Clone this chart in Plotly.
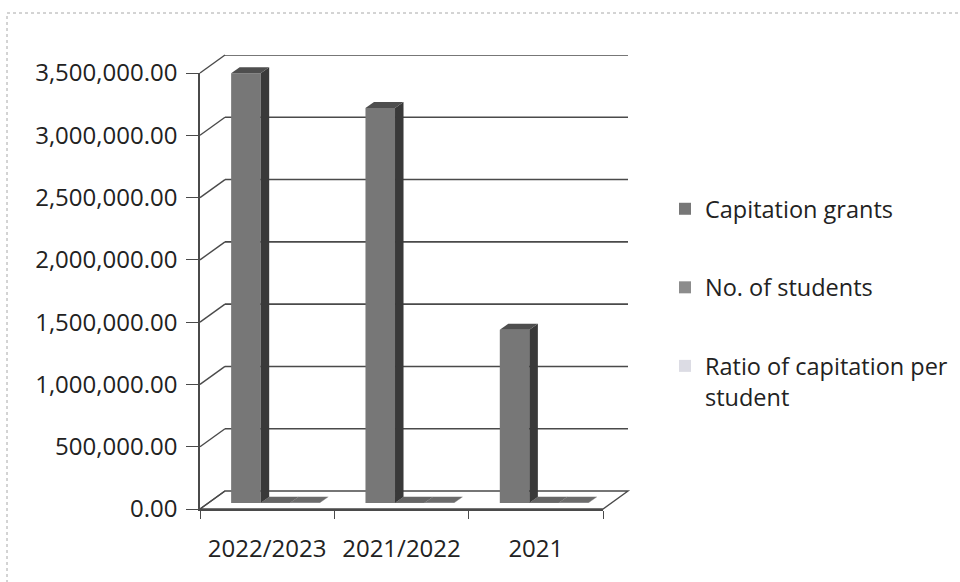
import plotly.graph_objects as go

# ---- data -------------------------------------------------------------
categories = ["2022/2023", "2021/2022", "2021"]
capitation_grants = [3450000, 3170000, 1390000]
no_of_students = [1150, 1060, 1030]
ratio_per_student = [3000, 2991, 1350]
series_names = ["Capitation grants", "No. of students", "Ratio of capitation per<br>student"]
value_ticks = [0, 500000, 1000000, 1500000, 2000000, 2500000, 3000000, 3500000]
Y_MAX = 3500000

# ---- styling ----------------------------------------------------------
FONT = "Open Sans"
TEXT = "#222222"
LINE = "#4a4a4a"
front_colors = ["#777777", "#8c8c8c", "#dcdce4"]
side_colors = ["#393939", "#4a4a4a", "#5a5a5a"]
top_colors = ["#4e4e4e", "#666666", "#6c6c6c"]

# ---- pseudo-3D geometry (pixels) --------------------------------------
W, H = 960, 582
PLOT_L, PLOT_T, PLOT_W, PLOT_H = 200, 50, 440, 459
FRONT_W, FRONT_H = 403, 436          # size of each depth plane
PX_PER_CAT = FRONT_W / len(categories)
PX_PER_VAL = FRONT_H / Y_MAX
FRONT = (0.0, 0.0)                   # plane of the axes
BARS = (8.3, 6.0)                    # plane of the column faces
BACK = (25.0, 18.0)                  # back wall
BAR_DEPTH = (8.5, 6.0)
BAR_W = 0.22
BAR_OFFSETS = [-0.33, -0.11, 0.11]


def domains(plane):
    ox, oy = plane
    return ([ox / PLOT_W, (ox + FRONT_W) / PLOT_W],
            [oy / PLOT_H, (oy + FRONT_H) / PLOT_H])


def to_paper(plane, cat, val):
    ox, oy = plane
    return ((ox + (cat + 0.5) * PX_PER_CAT) / PLOT_W,
            (oy + val * PX_PER_VAL) / PLOT_H)


fig = go.Figure()

# anchor traces so the back wall and axis frame subplots exist
fig.add_trace(go.Scatter(x=[-0.5, 2.5], y=[0, 0], xaxis="x", yaxis="y", mode="markers",
                         marker=dict(opacity=0), showlegend=False, hoverinfo="skip"))
fig.add_trace(go.Scatter(x=categories, y=[0] * len(categories), xaxis="x2", yaxis="y2",
                         mode="markers", marker=dict(opacity=0), showlegend=False,
                         hoverinfo="skip"))

series = [capitation_grants, no_of_students, ratio_per_student]
for k, (name, vals) in enumerate(zip(series_names, series)):
    fig.add_trace(go.Bar(
        x=categories, y=vals, name=name, xaxis="x3", yaxis="y3",
        width=[BAR_W] * len(vals), offset=[BAR_OFFSETS[k]] * len(vals),
        marker=dict(color=front_colors[k], line=dict(width=0)),
        legendgroup=f"g{k}",
    ))

shapes = []

# back wall gridlines
for v in value_ticks[1:]:
    shapes.append(dict(type="line", xref="x", yref="y", x0=-0.5, x1=2.5, y0=v, y1=v,
                       line=dict(color=LINE, width=1.6), layer="below"))

# left wall diagonals from the value axis to the back wall
for v in value_ticks:
    x0, y0 = to_paper(FRONT, -0.5, v)
    x1, y1 = to_paper(BACK, -0.5, v)
    shapes.append(dict(type="line", xref="paper", yref="paper", x0=x0, y0=y0, x1=x1, y1=y1,
                       line=dict(color=LINE, width=1.4), layer="below"))

# floor outline
corners = [to_paper(FRONT, -0.5, 0), to_paper(FRONT, 2.5, 0),
           to_paper(BACK, 2.5, 0), to_paper(BACK, -0.5, 0)]
path = "M " + " L ".join(f"{x:.5f},{y:.5f}" for x, y in corners) + " Z"
shapes.append(dict(type="path", xref="paper", yref="paper", path=path,
                   line=dict(color=LINE, width=1.4), layer="below"))

# column side and top faces
ddx = BAR_DEPTH[0] / PX_PER_CAT
ddy = BAR_DEPTH[1] / PX_PER_VAL
for k, vals in enumerate(series):
    for i, v in enumerate(vals):
        xl = i + BAR_OFFSETS[k]
        xr = xl + BAR_W
        if v > 0:
            side = (f"M {xr},0 L {xr + ddx},{ddy} L {xr + ddx},{v + ddy} "
                    f"L {xr},{v} Z")
            shapes.append(dict(type="path", xref="x3", yref="y3", path=side,
                               fillcolor=side_colors[k], line=dict(width=0), layer="above"))
        top = (f"M {xl},{v} L {xr},{v} L {xr + ddx},{v + ddy} "
               f"L {xl + ddx},{v + ddy} Z")
        shapes.append(dict(type="path", xref="x3", yref="y3", path=top,
                           fillcolor=top_colors[k], line=dict(width=0), layer="above"))

# chart area frame
shapes.append(dict(type="rect", xref="paper", yref="paper",
                   x0=(7 - PLOT_L) / PLOT_W, x1=(975 - PLOT_L) / PLOT_W,
                   y0=(PLOT_T + PLOT_H - 600) / PLOT_H, y1=(PLOT_T + PLOT_H - 13) / PLOT_H,
                   line=dict(color="#a8a8a8", width=1, dash="dot"), layer="below"))

back_x, back_y = domains(BACK)
front_x, front_y = domains(FRONT)
bar_x, bar_y = domains(BARS)

fig.update_layout(
    width=W, height=H,
    margin=dict(l=PLOT_L, r=W - PLOT_L - PLOT_W, t=PLOT_T, b=H - PLOT_T - PLOT_H),
    paper_bgcolor="white", plot_bgcolor="rgba(0,0,0,0)",
    font=dict(family=FONT, color=TEXT),
    barmode="overlay",
    showlegend=True,
    shapes=shapes,
    xaxis=dict(domain=back_x, anchor="y", range=[-0.5, 2.5], visible=False, fixedrange=True),
    yaxis=dict(domain=back_y, anchor="x", range=[0, Y_MAX], visible=False, fixedrange=True),
    xaxis2=dict(domain=front_x, anchor="y2", type="category", categoryorder="array",
                categoryarray=categories, range=[-0.5, 2.5], showgrid=False,
                showline=True, linecolor=LINE, linewidth=1.6,
                ticks="outside", tickson="boundaries", ticklen=8, tickwidth=1.4,
                tickcolor=LINE, tickfont=dict(size=24, color=TEXT),
                ticklabelstandoff=17, zeroline=False),
    yaxis2=dict(domain=front_y, anchor="x2", range=[0, Y_MAX], tickvals=value_ticks,
                tickformat=",.2f", showgrid=False, zeroline=False,
                showline=True, linecolor=LINE, linewidth=1.6,
                ticks="outside", ticklen=12, tickwidth=1.4, tickcolor=LINE,
                tickfont=dict(size=24, color=TEXT), ticklabelstandoff=4),
    xaxis3=dict(domain=bar_x, anchor="y3", type="category", categoryorder="array",
                categoryarray=categories, range=[-0.5, 2.5], visible=False),
    yaxis3=dict(domain=bar_y, anchor="x3", range=[0, Y_MAX], visible=False),
    legend=dict(xref="container", yref="container", x=665 / W, y=1 - 187 / H,
                xanchor="left", yanchor="top", font=dict(size=23.5, color=TEXT),
                tracegroupgap=45, valign="top", bgcolor="rgba(0,0,0,0)",
                itemclick=False, itemdoubleclick=False),
)

fig.write_html("out.html")
